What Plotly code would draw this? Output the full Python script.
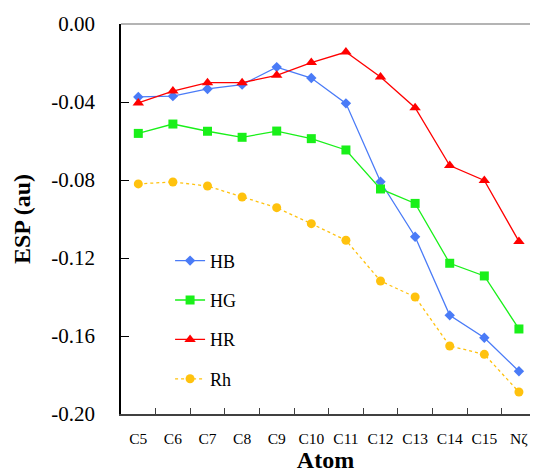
import plotly.graph_objects as go

atoms = ["C5", "C6", "C7", "C8", "C9", "C10", "C11", "C12", "C13", "C14", "C15", "Nζ"]
hb = [-0.0374, -0.0370, -0.0333, -0.0311, -0.0221, -0.0277, -0.0407, -0.0809, -0.1091, -0.1494, -0.1609, -0.1781]
hg = [-0.0561, -0.0513, -0.0550, -0.0581, -0.0549, -0.0588, -0.0646, -0.0846, -0.0920, -0.1227, -0.1292, -0.1564]
hr = [-0.0405, -0.0344, -0.0301, -0.0301, -0.0263, -0.0198, -0.0144, -0.0272, -0.0429, -0.0726, -0.0802, -0.1115]
rh = [-0.0820, -0.0810, -0.0831, -0.0887, -0.0942, -0.1024, -0.1109, -0.1318, -0.1400, -0.1651, -0.1694, -0.1887]
yticks = [0.0, -0.04, -0.08, -0.12, -0.16, -0.20]
ytick_text = ["0.00", "-0.04", "-0.08", "-0.12", "-0.16", "-0.20"]

FONT = "Liberation Serif"

fig = go.Figure()
series = [
    ("HB", hb, "#4a7bf7", "diamond", 8, "solid"),
    ("HG", hg, "#19f019", "square", 9, "solid"),
    ("HR", hr, "#ff0000", "triangle-up", 10, "solid"),
    ("Rh", rh, "#ffc20e", "circle", 9, "dot"),
]
for name, vals, col, sym, sz, dash in series:
    fig.add_trace(go.Scatter(
        x=atoms, y=vals, name=name, mode="lines+markers",
        line=dict(color=col, width=1.3, dash=dash),
        marker=dict(symbol=sym, size=sz, color=col),
        legendgroup=name,
    ))

fig.add_shape(type="line", xref="paper", yref="paper", x0=0, x1=1, y0=1, y1=1,
              line=dict(color="#b4b4b4", width=2))

fig.update_layout(
    width=522, height=467,
    margin=dict(l=113, r=0, t=16, b=61, autoexpand=False),
    paper_bgcolor="white", plot_bgcolor="white",
    font=dict(family=FONT, color="black"),
    showlegend=True,
    legend=dict(x=0.12, y=0.44, xanchor="left", yanchor="top",
                font=dict(family=FONT, size=18), tracegroupgap=13,
                traceorder="grouped", bgcolor="rgba(0,0,0,0)"),
    xaxis=dict(
        type="category", range=[-0.5, 11.32], automargin=False,
        showline=True, linecolor="#404040", linewidth=1.5,
        ticks="inside", tickson="boundaries", ticklen=6, tickcolor="#404040",
        tickfont=dict(family=FONT, size=15.5), tickangle=0, showgrid=False, zeroline=False,
        ticklabelstandoff=10,
        title=dict(text="Atom", font=dict(family=FONT, size=24, weight="bold"), standoff=2),
    ),
    yaxis=dict(
        range=[-0.2, 0.0], tickvals=yticks, ticktext=ytick_text, automargin=False,
        showline=True, linecolor="black", linewidth=1.5,
        ticks="inside", ticklen=8, tickcolor="black",
        tickfont=dict(family=FONT, size=21), showgrid=False, zeroline=False,
        ticklabelstandoff=20,
        title=dict(text="ESP (au)", font=dict(family=FONT, size=24, weight="bold"), standoff=14),
    ),
)

fig.write_html("out.html")
